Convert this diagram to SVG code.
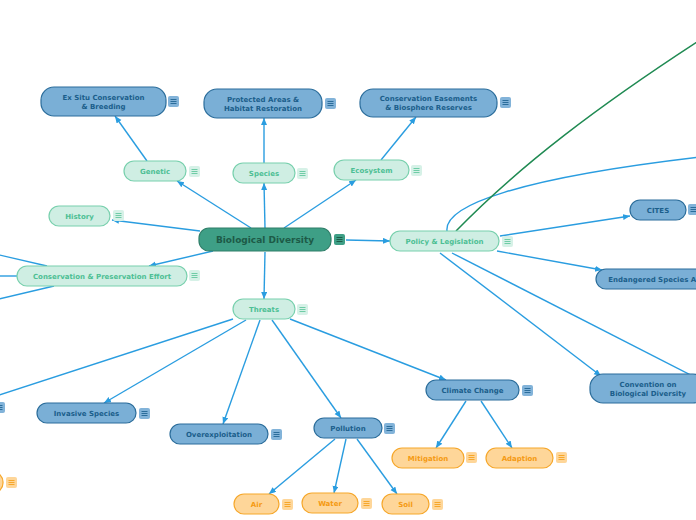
<svg xmlns="http://www.w3.org/2000/svg" xmlns:xlink="http://www.w3.org/1999/xlink" width="696" height="520" viewBox="0 0 696 520">
<style>
text{font-family:"DejaVu Sans",Verdana,sans-serif;font-weight:bold;font-size:7px;text-anchor:middle}
.c{stroke:#2a9de0;stroke-width:1.4;fill:none}
.ca{stroke:#2a9de0;stroke-width:1.4;fill:none;marker-end:url(#ar)}
.g{stroke:#1f8a52;stroke-width:1.5;fill:none}
.n0 rect{fill:#3e9f86;stroke:#2f7f69;stroke-width:1.2}
.n0 text{fill:#1d5a47;font-size:9px}
.n1 rect{fill:#cfeee3;stroke:#78d0ad;stroke-width:1.2}
.n1 text{fill:#4dbf94}
.n2 rect{fill:#7aafd6;stroke:#2b6d9b;stroke-width:1.2}
.n2 text{fill:#1b5e8b}
.n3 rect{fill:#fed699;stroke:#f6a72a;stroke-width:1.2}
.n3 text{fill:#f59a12}
</style>
<defs>
<marker id="ar" markerUnits="userSpaceOnUse" markerWidth="8" markerHeight="7" refX="7" refY="3" orient="auto"><path d="M0,0 L7,3 L0,6 z" fill="#2a9de0"/></marker>
<g id="m0"><rect width="11" height="11" rx="2" fill="#3e9f86"/><path d="M2.5,3.5h6M2.5,5.5h6M2.5,7.5h6" stroke="#1d5a47" stroke-width="1"/></g>
<g id="m1"><rect width="11" height="11" rx="2" fill="#d6f1e7"/><path d="M2.5,3.5h6M2.5,5.5h6M2.5,7.5h6" stroke="#6fcca6" stroke-width="1"/></g>
<g id="m2"><rect width="11" height="11" rx="2" fill="#82b3d9"/><path d="M2.5,3.5h6M2.5,5.5h6M2.5,7.5h6" stroke="#2b6d9b" stroke-width="1"/></g>
<g id="m3"><rect width="11" height="11" rx="2" fill="#fed699"/><path d="M2.5,3.5h6M2.5,5.5h6M2.5,7.5h6" stroke="#f6a72a" stroke-width="1"/></g>
</defs>
<rect width="696" height="520" fill="#ffffff"/>
<g id="connectors">
<path class="ca" d="M251,228 L177,181"/>
<path class="ca" d="M200,231 L112,220"/>
<path class="ca" d="M265,228 L264,183"/>
<path class="ca" d="M284,228 L356,180"/>
<path class="ca" d="M346,240 L390,241"/>
<path class="ca" d="M213,251 L149,266"/>
<path class="ca" d="M265,252 L264,299"/>
<path class="ca" d="M147,161 L115,116"/>
<path class="ca" d="M264,163 L264,118"/>
<path class="ca" d="M381,160 L416,117"/>
<path class="ca" d="M500,236 L630,216"/>
<path class="ca" d="M497,251 L602,270"/>
<path class="ca" d="M440,253 L601,376"/>
<path class="c" d="M452,253 L720,390"/>
<path class="c" d="M447,231 C444,205 520,178 700,157"/>
<path class="g" d="M456,231 C520,165 600,105 700,40"/>
<path class="c" d="M47,266 L-5,254"/>
<path class="c" d="M17,276 L-5,276"/>
<path class="c" d="M54,286 L-5,300"/>
<path class="c" d="M233,319 L-10,398"/>
<path class="ca" d="M246,320 L104,403"/>
<path class="ca" d="M260,320 L223,424"/>
<path class="ca" d="M272,320 L341,418"/>
<path class="ca" d="M290,319 L446,380"/>
<path class="ca" d="M466,401 L436,448"/>
<path class="ca" d="M481,401 L512,448"/>
<path class="ca" d="M335,439 L269,494"/>
<path class="ca" d="M346,439 L334,493"/>
<path class="ca" d="M357,439 L397,494"/>
</g>
<g id="root" class="n0"><rect x="199" y="228" width="132" height="23" rx="10"/><text x="265" y="242.5">Biological Diversity</text><use href="#m0" x="334" y="234"/></g>
<g id="genetic" class="n1"><rect x="124" y="161" width="62" height="20" rx="10"/><text x="155" y="173.5">Genetic</text><use href="#m1" x="189" y="166"/></g>
<g id="history" class="n1"><rect x="49" y="206" width="61" height="20" rx="10"/><text x="79.5" y="218.5">History</text><use href="#m1" x="113" y="210"/></g>
<g id="species" class="n1"><rect x="233" y="163" width="62" height="20" rx="10"/><text x="264" y="175.5">Species</text><use href="#m1" x="297" y="168"/></g>
<g id="ecosystem" class="n1"><rect x="334" y="160" width="75" height="20" rx="10"/><text x="371.5" y="172.5">Ecosystem</text><use href="#m1" x="411" y="165"/></g>
<g id="policy" class="n1"><rect x="390" y="231" width="109" height="20" rx="10"/><text x="444.5" y="243.5">Policy &amp; Legislation</text><use href="#m1" x="502" y="236"/></g>
<g id="cpe" class="n1"><rect x="17" y="266" width="170" height="20" rx="10"/><text x="102" y="278.5">Conservation &amp; Preservation Effort</text><use href="#m1" x="189" y="270"/></g>
<g id="threats" class="n1"><rect x="233" y="299" width="62" height="20" rx="10"/><text x="264" y="311.5">Threats</text><use href="#m1" x="297" y="304"/></g>
<g id="exsitu" class="n2"><rect x="41" y="87" width="125" height="29" rx="13"/><text x="103.5" y="99.5">Ex Situ Conservation</text><text x="103.5" y="108.5">&amp; Breeding</text><use href="#m2" x="168" y="96"/></g>
<g id="protected" class="n2"><rect x="204" y="89" width="118" height="29" rx="13"/><text x="263" y="101.5">Protected Areas &amp;</text><text x="263" y="110.5">Habitat Restoration</text><use href="#m2" x="325" y="98"/></g>
<g id="easements" class="n2"><rect x="360" y="89" width="137" height="28" rx="13"/><text x="428.5" y="101">Conservation Easements</text><text x="428.5" y="110">&amp; Biosphere Reserves</text><use href="#m2" x="500" y="97"/></g>
<g id="cites" class="n2"><rect x="630" y="200" width="56" height="20" rx="10"/><text x="658" y="212.5">CITES</text><use href="#m2" x="688" y="204"/></g>
<g id="esa" class="n2"><rect x="596" y="269" width="120" height="20" rx="10"/><text x="656" y="281.5">Endangered Species Act</text></g>
<g id="cbd" class="n2"><rect x="590" y="374" width="116" height="29" rx="13"/><text x="648" y="386.5">Convention on</text><text x="648" y="395.5">Biological Diversity</text></g>
<g id="leftblue" class="n2"><rect x="-100" y="397" width="92" height="21" rx="10"/><use href="#m2" x="-6" y="402"/></g>
<g id="invasive" class="n2"><rect x="37" y="403" width="99" height="20" rx="10"/><text x="86.5" y="415.5">Invasive Species</text><use href="#m2" x="139" y="408"/></g>
<g id="overexploitation" class="n2"><rect x="170" y="424" width="98" height="20" rx="10"/><text x="219" y="436.5">Overexploitation</text><use href="#m2" x="271" y="429"/></g>
<g id="pollution" class="n2"><rect x="314" y="418" width="68" height="20" rx="10"/><text x="348" y="430.5">Pollution</text><use href="#m2" x="384" y="423"/></g>
<g id="climate" class="n2"><rect x="426" y="380" width="93" height="20" rx="10"/><text x="472.5" y="392.5">Climate Change</text><use href="#m2" x="522" y="385"/></g>
<g id="mitigation" class="n3"><rect x="392" y="448" width="72" height="20" rx="10"/><text x="428" y="460.5">Mitigation</text><use href="#m3" x="466" y="452"/></g>
<g id="adaption" class="n3"><rect x="486" y="448" width="67" height="20" rx="10"/><text x="519.5" y="460.5">Adaption</text><use href="#m3" x="556" y="452"/></g>
<g id="air" class="n3"><rect x="234" y="494" width="45" height="20" rx="10"/><text x="256.5" y="506.5">Air</text><use href="#m3" x="282" y="499"/></g>
<g id="water" class="n3"><rect x="302" y="493" width="56" height="20" rx="10"/><text x="330" y="505.5">Water</text><use href="#m3" x="361" y="498"/></g>
<g id="soil" class="n3"><rect x="382" y="494" width="47" height="20" rx="10"/><text x="405.5" y="506.5">Soil</text><use href="#m3" x="432" y="499"/></g>
<g id="leftorange" class="n3"><rect x="-80" y="472" width="83" height="21" rx="10"/><use href="#m3" x="6" y="477"/></g>
</svg>
